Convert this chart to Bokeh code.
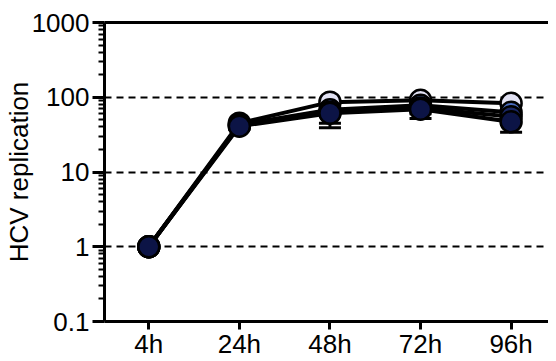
from bokeh.plotting import figure
from bokeh.models import FixedTicker, LinearAxis, Range1d, ColumnDataSource, Whisker, TeeHead
from bokeh.embed import file_html
from bokeh.resources import INLINE

categories = ["4h", "24h", "48h", "72h", "96h"]
lavender = [1, 45, 86, 91, 83]
blue = [1, 43, 68, 78, 63]
darkblue = [1, 42, 63, 72, 55]
navy = [1, 41, 61, 69, 47]
darkblue_low = [1, 39, 45, 60, 45]
navy_low = [1, 37, 39, 52, 34]
lavender_low = [1, 44, 84, 89, 80]
blue_low = [1, 42, 62, 74, 57]

y_ticks = [0.1, 1, 10, 100, 1000]
y_labels = ["0.1", "1", "10", "100", "1000"]
grid_ticks = [1, 10, 100]

FONT = "Liberation Sans"
FS = "26px"

x = list(range(len(categories)))

p = figure(width=548, height=361, y_axis_type="log",
           x_range=Range1d(-0.489, 4.413), y_range=(0.1, 1000),
           output_backend="svg", toolbar_location=None,
           min_border_top=22, min_border_right=0, min_border_left=97, min_border_bottom=39)
p.outline_line_color = None
p.background_fill_color = "white"

# axes
p.xaxis.ticker = FixedTicker(ticks=x)
p.xaxis.major_label_overrides = {i: c for i, c in zip(x, categories)}
p.yaxis.ticker = FixedTicker(ticks=y_ticks, minor_ticks=[m * 10.0 ** k for k in range(-1, 3) for m in range(2, 10)])
p.yaxis.major_label_overrides = {t: l for t, l in zip(y_ticks, y_labels)}
p.yaxis.axis_label = "HCV replication"

for ax in (p.xaxis[0], p.yaxis[0]):
    ax.axis_line_width = 3
    ax.axis_line_color = "black"
    ax.major_tick_line_width = 3
    ax.major_tick_line_color = "black"
    ax.major_tick_in = 0
    ax.major_label_text_font = FONT
    ax.major_label_text_font_size = FS
    ax.major_label_text_color = "black"
    ax.axis_label_text_font = FONT
    ax.axis_label_text_font_size = FS
    ax.axis_label_text_font_style = "normal"
    ax.axis_label_text_color = "black"

p.xaxis.major_tick_out = 8
p.xaxis.minor_tick_line_color = None
p.xaxis.major_label_standoff = -1
p.yaxis.major_tick_out = 12
p.yaxis.minor_tick_out = 6
p.yaxis.minor_tick_in = 0
p.yaxis.minor_tick_line_width = 2
p.yaxis.minor_tick_line_color = "black"
p.yaxis.major_label_standoff = 3
p.yaxis.axis_label_standoff = -5

top = LinearAxis(ticker=FixedTicker(ticks=[]), axis_line_width=3, axis_line_color="black",
                 major_tick_line_color=None, minor_tick_line_color=None,
                 major_label_text_font_size="0px")
p.add_layout(top, "above")

p.xgrid.grid_line_color = None
p.ygrid.ticker = FixedTicker(ticks=grid_ticks)
p.ygrid.grid_line_color = "black"
p.ygrid.grid_line_width = 2
p.ygrid.grid_line_dash = "7 5"

series = [
    (lavender, lavender_low, "#e2e2f3"),
    (blue, blue_low, "#4a6cc0"),
    (darkblue, darkblue_low, "#1a2766"),
    (navy, navy_low, "#0c1446"),
]

for vals, low, color in series:
    src = ColumnDataSource(dict(x=x, y=vals, low=low))
    p.line("x", "y", source=src, line_color="black", line_width=4)
    w = Whisker(base="x", upper="y", lower="low", source=src, dimension="height",
                line_color="black", line_width=3,
                lower_head=TeeHead(size=22, line_width=3, line_color="black"), upper_head=None)
    p.add_layout(w)
    p.scatter("x", "y", source=src, size=21, fill_color=color, line_color="black", line_width=2.5)

open("out.html", "w").write(file_html(p, INLINE))
